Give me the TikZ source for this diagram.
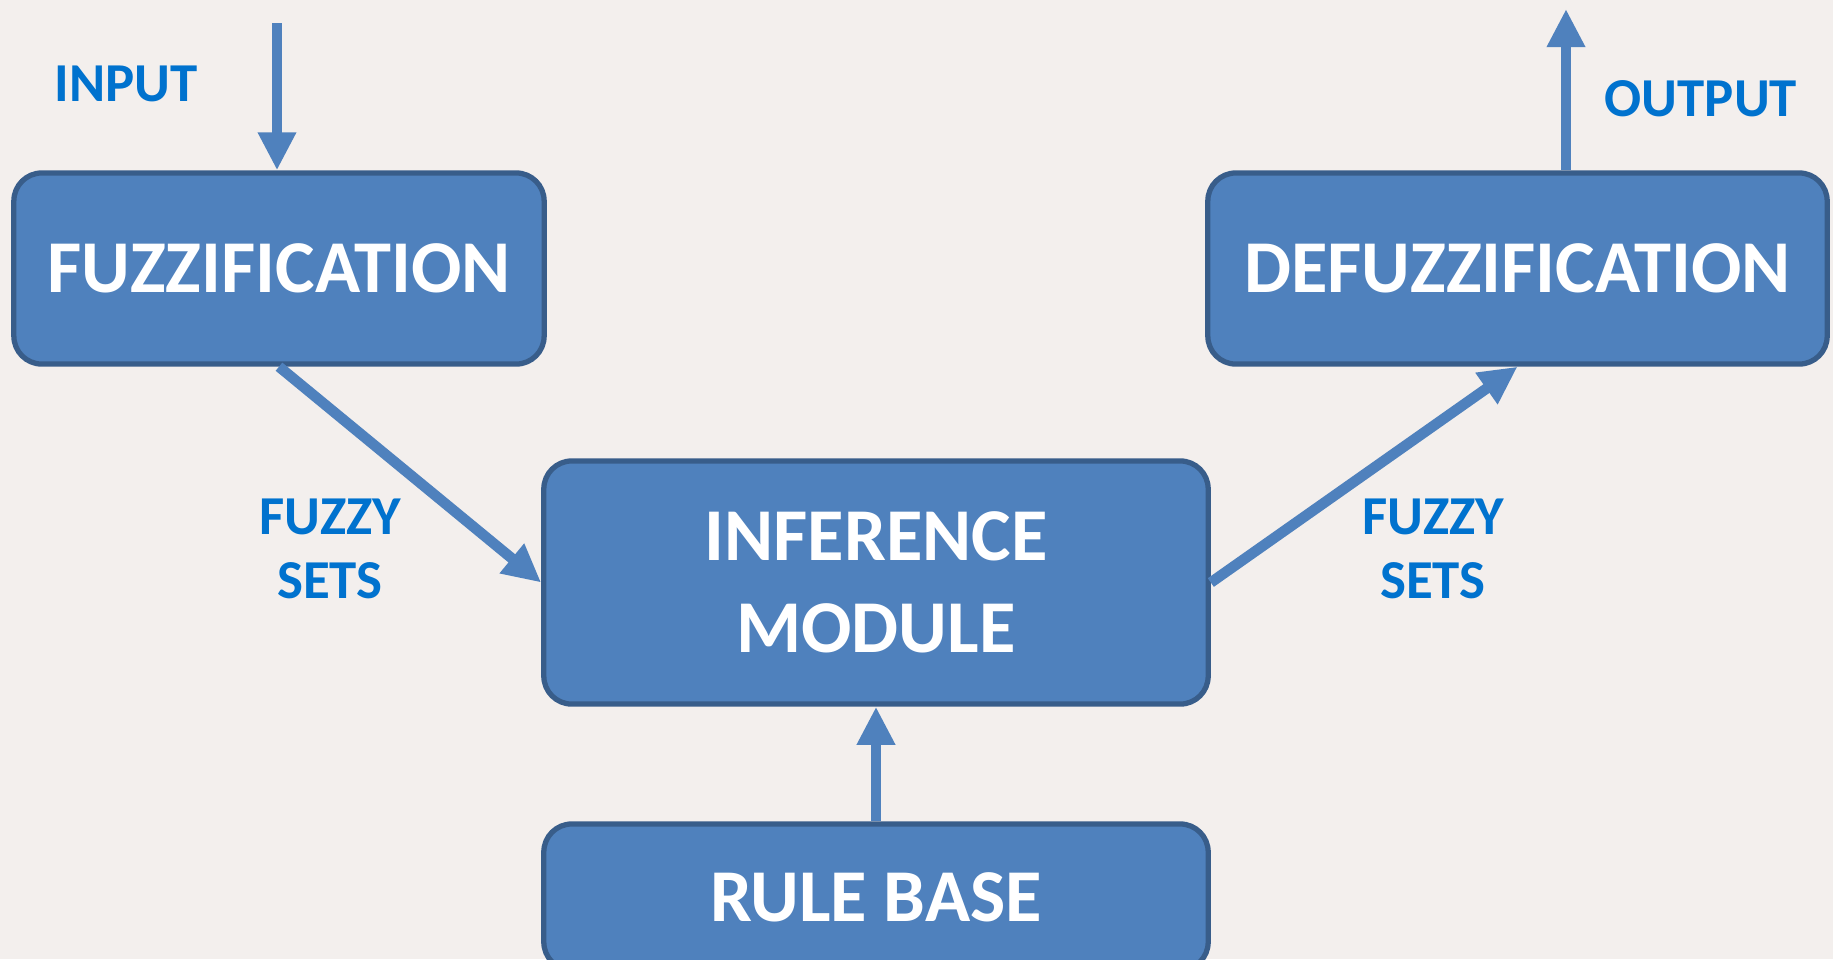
\documentclass[tikz,border=0pt]{standalone}
\usepackage{fontspec}
\setmainfont{Carlito}
\usetikzlibrary{arrows.meta,positioning}
\definecolor{boxblue}{RGB}{79,129,189}
\definecolor{boxedge}{RGB}{56,93,138}
\definecolor{tagblue}{RGB}{0,114,206}
\definecolor{marble}{RGB}{243,239,237}
\begin{document}
\begin{tikzpicture}[
    x=0.01cm, y=-0.01cm,
    block/.style={rectangle, draw=boxedge, line width=1.5pt, fill=boxblue, rounded corners=0.28cm, inner sep=0pt, align=center, text=white, font=\fontsize{21.2}{26}\selectfont\bfseries},
    flow/.style={-{Triangle[width=0.36cm,length=0.38cm]}, line width=3pt, draw=boxblue},
    tag/.style={align=center, text=tagblue, font=\fontsize{15.6}{18}\selectfont\bfseries}
]
\fill[marble] (0,0) rectangle (1833,959);
\useasboundingbox (0,0) rectangle (1833,959);

\node[block, minimum width=5.3cm, minimum height=1.91cm] (fuzz) at (279,268.5) {FUZZIFICATION};
\node[block, minimum width=6.19cm, minimum height=1.91cm] (defuzz) at (1517.5,268.5) {DEFUZZIFICATION};
\node[block, minimum width=6.64cm, minimum height=2.43cm] (infer) at (876,582.5) {INFERENCE\\MODULE};
\node[block, minimum width=6.64cm, minimum height=1.46cm] (rules) at (876,897) {RULE BASE};

\node[tag] (inlbl) at (126,84) {INPUT};
\node[tag] (outlbl) at (1701,99) {OUTPUT};
\node[tag] (setsL) at (330,549) {FUZZY\\SETS};
\node[tag] (setsR) at (1433,549) {FUZZY\\SETS};

\coordinate (intop) at (277,23);
\coordinate (outtop) at (1566,9);

\draw[flow] (intop) -- (intop |- fuzz.north);
\draw[flow] (fuzz.south) -- (infer.west);
\draw[flow] (infer.east) -- (defuzz.south);
\draw[flow] (rules.north) -- (infer.south);
\draw[flow] (outtop |- defuzz.north) -- (outtop);
\end{tikzpicture}
\end{document}
